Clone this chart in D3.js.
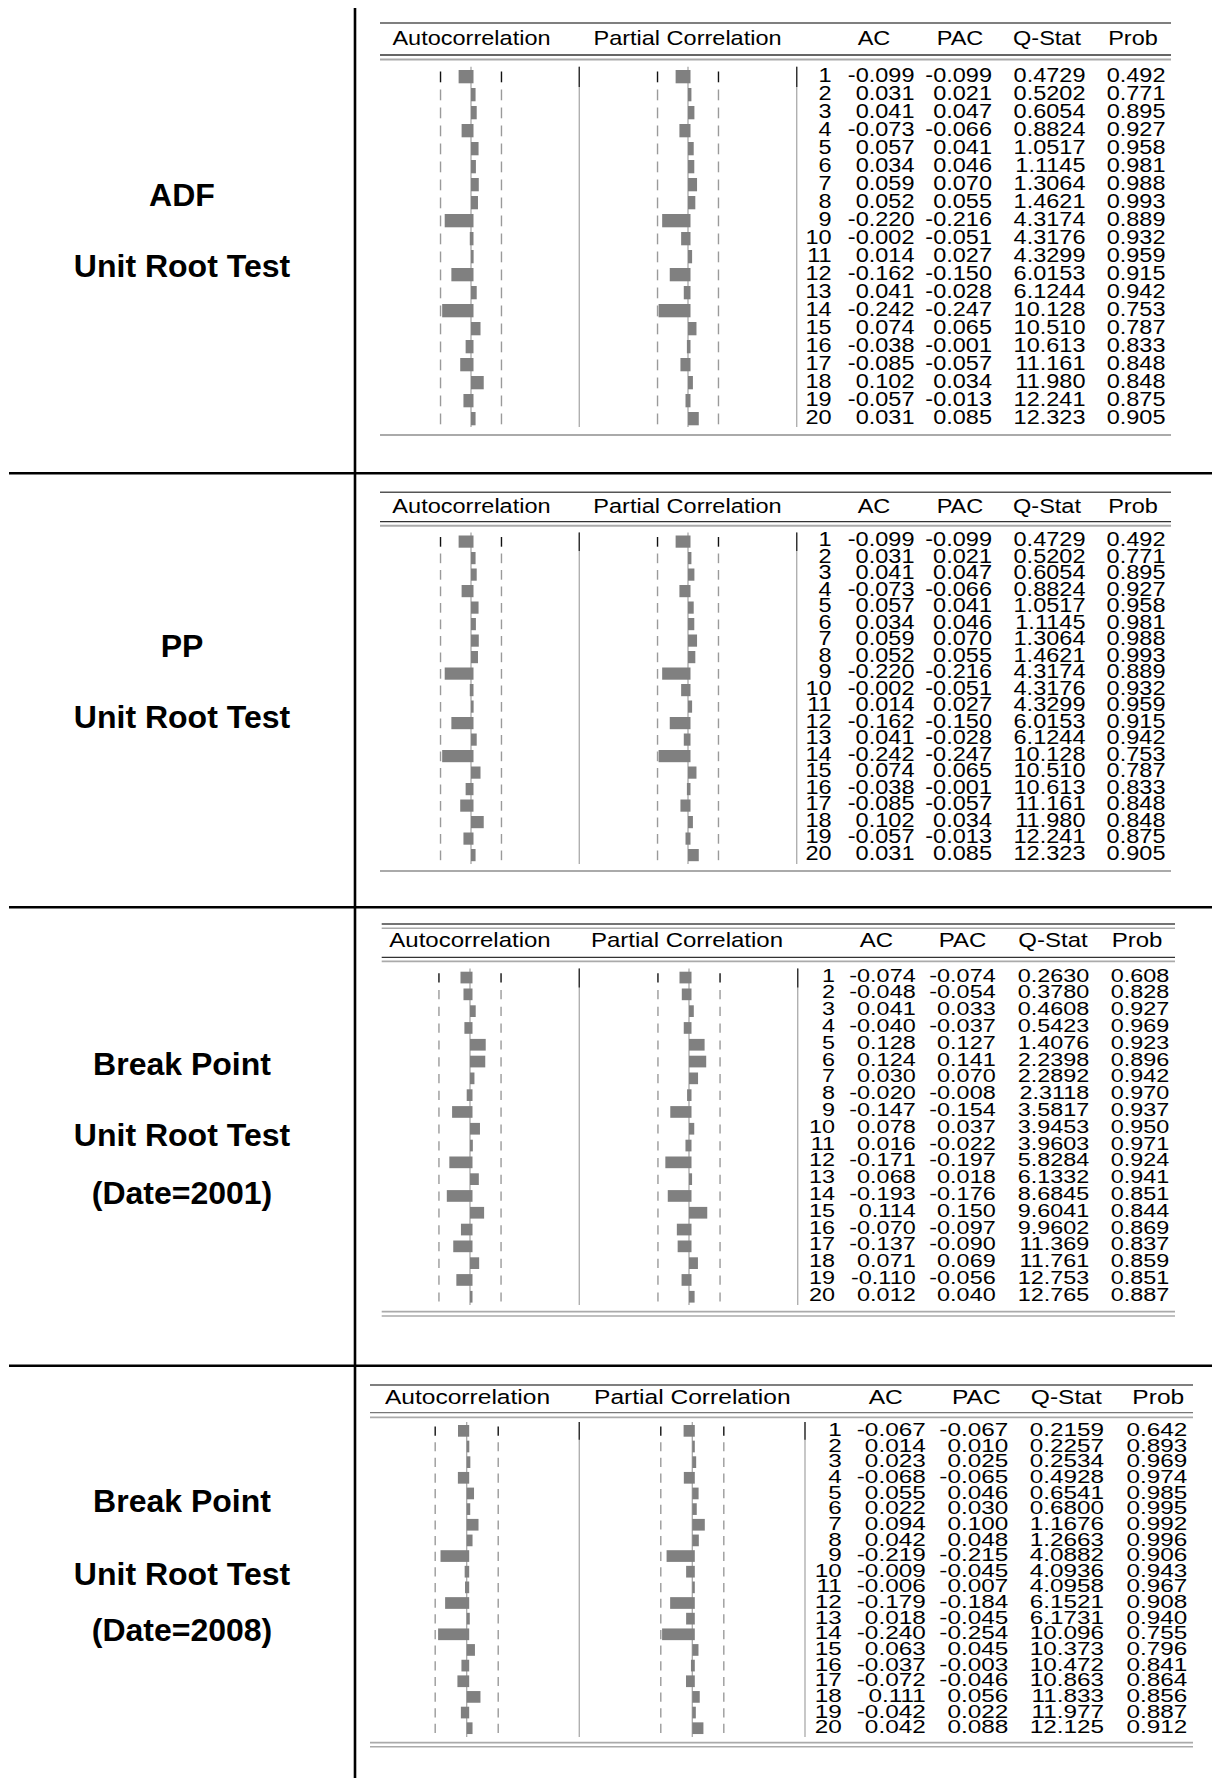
<!DOCTYPE html>
<html>
<head>
<meta charset="utf-8">
<script src="https://cdn.jsdelivr.net/npm/d3@7"></script>
<style>
  html, body { margin: 0; padding: 0; background: #fff; }
  svg { display: block; }
  text { font-family: "Liberation Sans", Arial, Helvetica, sans-serif; fill: #000; }
</style>
</head>
<body>
<div id="chart"></div>
<script>
// ---- Correlogram data (lags 1..20) ----
const lags = [1, 2, 3, 4, 5, 6, 7, 8, 9, 10, 11, 12, 13, 14, 15, 16, 17, 18, 19, 20];

const columnHeaders = ["Autocorrelation", "Partial Correlation", "AC", "PAC", "Q-Stat", "Prob"];

const panelTitles = [
  ["ADF", "Unit Root Test"],
  ["PP", "Unit Root Test"],
  ["Break Point", "Unit Root Test", "(Date=2001)"],
  ["Break Point", "Unit Root Test", "(Date=2008)"]
];

// ADF residuals
const adfAC   = [-0.099, 0.031, 0.041, -0.073, 0.057, 0.034, 0.059, 0.052, -0.220, -0.002, 0.014, -0.162, 0.041, -0.242, 0.074, -0.038, -0.085, 0.102, -0.057, 0.031];
const adfPAC  = [-0.099, 0.021, 0.047, -0.066, 0.041, 0.046, 0.070, 0.055, -0.216, -0.051, 0.027, -0.150, -0.028, -0.247, 0.065, -0.001, -0.057, 0.034, -0.013, 0.085];
const adfQ    = [0.4729, 0.5202, 0.6054, 0.8824, 1.0517, 1.1145, 1.3064, 1.4621, 4.3174, 4.3176, 4.3299, 6.0153, 6.1244, 10.128, 10.510, 10.613, 11.161, 11.980, 12.241, 12.323];
const adfProb = [0.492, 0.771, 0.895, 0.927, 0.958, 0.981, 0.988, 0.993, 0.889, 0.932, 0.959, 0.915, 0.942, 0.753, 0.787, 0.833, 0.848, 0.848, 0.875, 0.905];

// PP residuals
const ppAC   = [-0.099, 0.031, 0.041, -0.073, 0.057, 0.034, 0.059, 0.052, -0.220, -0.002, 0.014, -0.162, 0.041, -0.242, 0.074, -0.038, -0.085, 0.102, -0.057, 0.031];
const ppPAC  = [-0.099, 0.021, 0.047, -0.066, 0.041, 0.046, 0.070, 0.055, -0.216, -0.051, 0.027, -0.150, -0.028, -0.247, 0.065, -0.001, -0.057, 0.034, -0.013, 0.085];
const ppQ    = [0.4729, 0.5202, 0.6054, 0.8824, 1.0517, 1.1145, 1.3064, 1.4621, 4.3174, 4.3176, 4.3299, 6.0153, 6.1244, 10.128, 10.510, 10.613, 11.161, 11.980, 12.241, 12.323];
const ppProb = [0.492, 0.771, 0.895, 0.927, 0.958, 0.981, 0.988, 0.993, 0.889, 0.932, 0.959, 0.915, 0.942, 0.753, 0.787, 0.833, 0.848, 0.848, 0.875, 0.905];

// Break point test, break date 2001
const bp01AC   = [-0.074, -0.048, 0.041, -0.040, 0.128, 0.124, 0.030, -0.020, -0.147, 0.078, 0.016, -0.171, 0.068, -0.193, 0.114, -0.070, -0.137, 0.071, -0.110, 0.012];
const bp01PAC  = [-0.074, -0.054, 0.033, -0.037, 0.127, 0.141, 0.070, -0.008, -0.154, 0.037, -0.022, -0.197, 0.018, -0.176, 0.150, -0.097, -0.090, 0.069, -0.056, 0.040];
const bp01Q    = [0.2630, 0.3780, 0.4608, 0.5423, 1.4076, 2.2398, 2.2892, 2.3118, 3.5817, 3.9453, 3.9603, 5.8284, 6.1332, 8.6845, 9.6041, 9.9602, 11.369, 11.761, 12.753, 12.765];
const bp01Prob = [0.608, 0.828, 0.927, 0.969, 0.923, 0.896, 0.942, 0.970, 0.937, 0.950, 0.971, 0.924, 0.941, 0.851, 0.844, 0.869, 0.837, 0.859, 0.851, 0.887];

// Break point test, break date 2008
const bp08AC   = [-0.067, 0.014, 0.023, -0.068, 0.055, 0.022, 0.094, 0.042, -0.219, -0.009, -0.006, -0.179, 0.018, -0.240, 0.063, -0.037, -0.072, 0.111, -0.042, 0.042];
const bp08PAC  = [-0.067, 0.010, 0.025, -0.065, 0.046, 0.030, 0.100, 0.048, -0.215, -0.045, 0.007, -0.184, -0.045, -0.254, 0.045, -0.003, -0.046, 0.056, 0.022, 0.088];
const bp08Q    = [0.2159, 0.2257, 0.2534, 0.4928, 0.6541, 0.6800, 1.1676, 1.2663, 4.0882, 4.0936, 4.0958, 6.1521, 6.1731, 10.096, 10.373, 10.472, 10.863, 11.833, 11.977, 12.125];
const bp08Prob = [0.642, 0.893, 0.969, 0.974, 0.985, 0.995, 0.992, 0.996, 0.906, 0.943, 0.967, 0.908, 0.940, 0.755, 0.796, 0.841, 0.864, 0.856, 0.887, 0.912];

// approximate 2-standard-error bands of each correlogram
const confBounds = [0.265, 0.265, 0.27, 0.274];

const seriesAC   = [adfAC, ppAC, bp01AC, bp08AC];
const seriesPAC  = [adfPAC, ppPAC, bp01PAC, bp08PAC];
const seriesQ    = [adfQ, ppQ, bp01Q, bp08Q];
const seriesProb = [adfProb, ppProb, bp01Prob, bp08Prob];

// ---- Page layout ----
const W = 1212, H = 1778;
const svg = d3.select("#chart").append("svg").attr("width", W).attr("height", H);
svg.append("rect").attr("width", W).attr("height", H).attr("fill", "#fff");

const frameX = 355;                       // vertical rule between titles and tables
const bandRules = [473.3, 907.3, 1365.7]; // horizontal rules between blocks

// title positions (baselines) for each block
const titleLayout = [
  { x: 182, ys: [206, 277] },
  { x: 182, ys: [657, 728] },
  { x: 182, ys: [1075, 1146, 1204] },
  { x: 182, ys: [1512, 1585, 1641] }
];

// per-block correlogram geometry
const panelLayout = [
  { top: [[23, "#555", 1.5]], hdrY: 45, hdrSize: 21, hdrSx: 1.12,
    hdrLines: [[55, "#333", 1.3], [59.5, "#aaa", 2]],
    row0: 70, pitch: 18, barH: 13.3, textOff: 11.7, bodySize: 21, bodySx: 1.12,
    bottom: [[435, "#aaa", 2]], vTop: 66.7, vBot: 427,
    x0: 380, x1: 1171, acZero: 471, pacZero: 688, sep1: 579.3, sep2: 796.7,
    cols: [831.7, 914.5, 992, 1085.5, 1165.5],
    hdrX: [471.5, 687.5, 874, 960, 1047, 1133] },
  { top: [[492.3, "#555", 1.5]], hdrY: 512.5, hdrSize: 19.3, hdrSx: 1.22,
    hdrLines: [[521.7, "#333", 1.3], [525.7, "#aaa", 2]],
    row0: 535.5, pitch: 16.5, barH: 12.2, textOff: 10.8, bodySize: 19.3, bodySx: 1.22,
    bottom: [[871, "#aaa", 2]], vTop: 532.5, vBot: 864,
    x0: 380, x1: 1171, acZero: 471, pacZero: 688, sep1: 579.3, sep2: 796.7,
    cols: [831.7, 914.5, 992, 1085.5, 1165.5],
    hdrX: [471.5, 687.5, 874, 960, 1047, 1133] },
  { top: [[924, "#444", 1.3], [928.3, "#aaa", 1.5]], hdrY: 946.7, hdrSize: 20, hdrSx: 1.2,
    hdrLines: [[957.3, "#333", 1.3], [961.3, "#aaa", 1.8]],
    row0: 971.7, pitch: 16.8, barH: 11.7, textOff: 10, bodySize: 18.6, bodySx: 1.26,
    bottom: [[1311.7, "#aaa", 1.8], [1316, "#aaa", 1.5]], vTop: 968.5, vBot: 1305,
    x0: 381.7, x1: 1175, acZero: 470, pacZero: 689, sep1: 579.3, sep2: 797.7,
    cols: [835, 915.7, 995.7, 1089.3, 1169.3],
    hdrX: [470, 687, 876.4, 962.6, 1053, 1137] },
  { top: [[1385, "#555", 1.5]], hdrY: 1404, hdrSize: 19.5, hdrSx: 1.26,
    hdrLines: [[1412.7, "#777", 1.3], [1417.3, "#aaa", 1.8]],
    row0: 1425, pitch: 15.65, barH: 11.7, textOff: 11, bodySize: 17.5, bodySx: 1.39,
    bottom: [[1742.7, "#aaa", 1.8], [1746.7, "#aaa", 1.5]], vTop: 1422, vBot: 1737,
    x0: 370, x1: 1193, acZero: 466.7, pacZero: 692.3, sep1: 579.3, sep2: 805,
    cols: [841.7, 925.7, 1008.3, 1104, 1187.3],
    hdrX: [467.5, 692.3, 885.8, 976.3, 1066.3, 1158.3] }
];

const PX_PER_UNIT = 115;
const barColor = "#808080";
// plain hyphen-minus for negative numbers
const locale = d3.formatLocale({ decimal: ".", thousands: ",", grouping: [3], currency: ["", ""], minus: "-" });
const fmt3 = locale.format(".3f");
const fmt4 = locale.format(".4f");
const fmtQ = v => v < 10 ? fmt4(v) : fmt3(v);

// text helper: horizontally stretched glyphs
function stretchedText(g, x, y, s, size, sx, anchor, weight) {
  return g.append("text")
    .attr("transform", `translate(${x},${y}) scale(${sx},1)`)
    .attr("text-anchor", anchor)
    .attr("font-size", size)
    .attr("font-weight", weight || "normal")
    .text(s);
}

function hline(g, x0, x1, y, color, w) {
  g.append("line").attr("x1", x0).attr("x2", x1).attr("y1", y).attr("y2", y)
    .attr("stroke", color).attr("stroke-width", w);
}

// ---- frame rules ----
const frame = svg.append("g");
frame.append("line").attr("x1", frameX).attr("x2", frameX).attr("y1", 8).attr("y2", H)
  .attr("stroke", "#000").attr("stroke-width", 2.6);
bandRules.forEach(y => hline(frame, 9, W, y, "#000", 2.6));

// ---- titles ----
panelTitles.forEach((lines, i) => {
  const t = titleLayout[i];
  lines.forEach((s, j) => {
    svg.append("text")
      .attr("x", t.x).attr("y", t.ys[j])
      .attr("text-anchor", "middle")
      .attr("font-size", 32).attr("font-weight", "bold")
      .text(s);
  });
});

// ---- correlograms ----
panelLayout.forEach((L, p) => {
  const g = svg.append("g");
  const ac = seriesAC[p], pac = seriesPAC[p], q = seriesQ[p], prob = seriesProb[p];
  const bound = confBounds[p];

  const yRow = d3.scaleBand().domain(lags).range([L.row0, L.row0 + L.pitch * lags.length]).paddingInner(0).paddingOuter(0);
  const xAC  = d3.scaleLinear().domain([-1, 1]).range([L.acZero - PX_PER_UNIT, L.acZero + PX_PER_UNIT]);
  const xPAC = d3.scaleLinear().domain([-1, 1]).range([L.pacZero - PX_PER_UNIT, L.pacZero + PX_PER_UNIT]);

  // horizontal rules
  L.top.forEach(([y, c, w]) => hline(g, L.x0, L.x1, y, c, w));
  L.hdrLines.forEach(([y, c, w]) => hline(g, L.x0, L.x1, y, c, w));
  L.bottom.forEach(([y, c, w]) => hline(g, L.x0, L.x1, y, c, w));

  // column headers
  columnHeaders.forEach((h, k) => stretchedText(g, L.hdrX[k], L.hdrY, h, L.hdrSize, L.hdrSx, "middle"));

  // column separators (first row drawn darker)
  [L.sep1, L.sep2].forEach(x => {
    g.append("line").attr("x1", x).attr("x2", x).attr("y1", L.vTop).attr("y2", L.vBot)
      .attr("stroke", "#b0b0b0").attr("stroke-width", 1.4);
    g.append("line").attr("x1", x).attr("x2", x).attr("y1", L.vTop).attr("y2", yRow(lags[0]) + L.pitch - 1)
      .attr("stroke", "#333").attr("stroke-width", 1.4);
  });

  // confidence band dashes, zero line and bars for AC and PAC
  [[xAC, ac], [xPAC, pac]].forEach(([xs, vals]) => {
    [-bound, bound].forEach(b => {
      g.selectAll(null).data(lags).join("line")
        .attr("x1", xs(b)).attr("x2", xs(b))
        .attr("y1", d => yRow(d) + 1.5)
        .attr("y2", d => yRow(d) + L.barH - 1)
        .attr("stroke", (d, i) => i === 0 ? "#111" : "#9a9a9a")
        .attr("stroke-width", 1.4);
    });
    g.append("line").attr("x1", xs(0)).attr("x2", xs(0)).attr("y1", L.vTop).attr("y2", L.vBot)
      .attr("stroke", "#a8a8a8").attr("stroke-width", 1.3);

    g.selectAll(null).data(vals).join("rect")
      .attr("x", v => v < 0 ? xs(v) - 1 : xs(0))
      .attr("width", v => v < 0 ? (xs(0) + 2.5) - (xs(v) - 1) : Math.max(xs(v) - xs(0) + 1, 2.5))
      .attr("y", (v, i) => yRow(lags[i]))
      .attr("height", L.barH)
      .attr("fill", barColor);
  });

  // numeric columns: one right-aligned text block per column, one line per lag
  const columns = [
    lags.map(String),
    ac.map(fmt3),
    pac.map(fmt3),
    q.map(fmtQ),
    prob.map(fmt3)
  ];
  columns.forEach((col, k) => {
    const t = g.append("text")
      .attr("transform", `translate(${L.cols[k]},0) scale(${L.bodySx},1)`)
      .attr("text-anchor", "end")
      .attr("font-size", L.bodySize);
    t.selectAll("tspan").data(col).join("tspan")
      .attr("x", 0)
      .attr("y", (s, i) => yRow(lags[i]) + L.textOff)
      .text(s => s);
  });
});
</script>
</body>
</html>
